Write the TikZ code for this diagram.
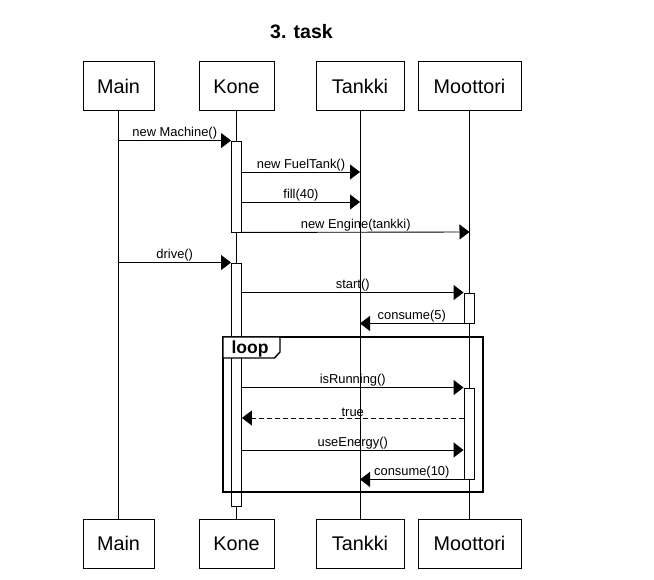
\documentclass[tikz,border=0pt]{standalone}
\usepackage{fontspec}
\setmainfont{Liberation Sans}
\usetikzlibrary{arrows.meta}
\begin{document}
\begin{tikzpicture}[x=1pt,y=-1pt,
  obj/.style={draw, line width=1pt, minimum width=#1, minimum height=49pt, inner sep=0pt, font=\fontsize{19.8}{20}\selectfont},
  actbox/.style={draw, fill=white, line width=0.9pt, minimum width=10pt, minimum height=#1, inner sep=0pt},
  msg/.style={-{Triangle[length=10pt,width=15pt]}, line width=0.9pt},
  lbl/.style={font=\fontsize{12.9}{13}\selectfont, above, inner sep=0.6pt},
  life/.style={line width=0.9pt}]
\useasboundingbox (0,0) rectangle (654,580);

% title
\node[font=\bfseries\fontsize{19.5}{20}\selectfont] (title) at (301.5,31.5) {3. task};

% objects
\node[obj=71pt] (mainT) at (118.5,86.5) {Main};
\node[obj=75pt] (koneT) at (236.5,86.5) {Kone};
\node[obj=88pt] (tankT) at (360,86.5) {Tankki};
\node[obj=103pt] (mootT) at (469.5,86.5) {Moottori};
\node[obj=71pt] (mainB) at (118.5,543.5) {Main};
\node[obj=75pt] (koneB) at (236.5,543.5) {Kone};
\node[obj=88pt] (tankB) at (360,543.5) {Tankki};
\node[obj=103pt] (mootB) at (469.5,543.5) {Moottori};

% lifelines
\draw[life] (mainT) -- (mainB);
\draw[life] (koneT) -- (koneB);
\draw[life] (tankT) -- (tankB);
\draw[life] (mootT) -- (mootB);

% activations
\node[actbox=91pt] (ka1) at (236.5,186.5) {};
\node[actbox=243pt] (ka2) at (236.5,384.5) {};
\node[actbox=30pt] (ma1) at (469,308) {};
\node[actbox=91pt] (ma2) at (469,433.5) {};

% message rows
\coordinate (r1) at (0,172);
\coordinate (r2) at (0,202);
\coordinate (r3) at (0,232);
\coordinate (r4) at (0,418);
\coordinate (r5) at (0,450);

% messages
\draw[msg] (mainT |- ka1.north) -- node[lbl] {new Machine()} (ka1.north west);
\draw[msg] (ka1.east |- r1) -- node[lbl] {new FuelTank()} (tankT |- r1);
\draw[msg] (ka1.east |- r2) -- node[lbl] {fill(40)} (tankT |- r2);
\draw[msg] (ka1.south east) -- node[lbl] {new Engine(tankki)} (mootT |- r3);
\draw[msg] (mainT |- ka2.north) -- node[lbl] {drive()} (ka2.north west);
\draw[msg] (ka2.east |- ma1.north) -- node[lbl] {start()} (ma1.north west);
\draw[msg] (ma1.south west) -- node[lbl] {consume(5)} (tankT |- ma1.south);
\draw[msg] (ka2.east |- ma2.north) -- node[lbl] {isRunning()} (ma2.north west);
\draw[msg, dash pattern=on 5pt off 3pt] (ma2.west |- r4) -- node[lbl] {true} (ka2.east |- r4);
\draw[msg] (ka2.east |- r5) -- node[lbl] {useEnergy()} (ma2.west |- r5);
\draw[msg] (ma2.south west) -- node[lbl] {consume(10)} (tankT |- ma2.south);

% loop frame
\draw[line width=2pt] (223,337) rectangle (483,492);
\draw[line width=1.4pt, fill=white] (223,337) -- (280,337) -- (280,352) -- (274.5,358) -- (223,358) -- cycle;
\node[font=\bfseries\fontsize{17.5}{18}\selectfont, inner sep=0pt] (looplbl) at (250,349) {loop};
\end{tikzpicture}
\end{document}
